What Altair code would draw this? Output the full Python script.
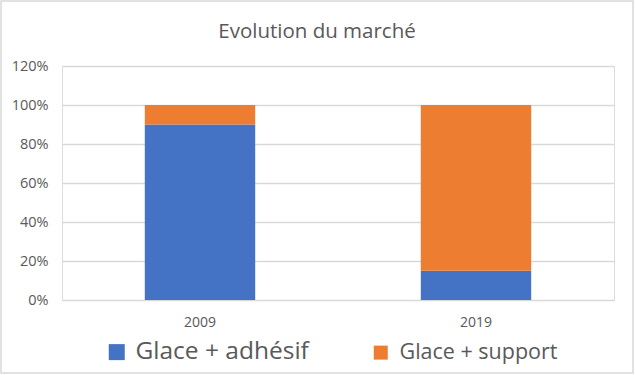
import altair as alt
import pandas as pd

years = ["2009", "2019"]
series = ["Glace + adhésif", "Glace + support"]
adhesif = [0.90, 0.15]
support = [0.10, 0.85]
colors = ["#4472C4", "#ED7D31"]
y_ticks = [0, 0.2, 0.4, 0.6, 0.8, 1.0, 1.2]

rows = []
for i, yr in enumerate(years):
    rows.append({"year": yr, "serie": series[0], "value": adhesif[i], "ord": 0})
    rows.append({"year": yr, "serie": series[1], "value": support[i], "ord": 1})
df = pd.DataFrame(rows)

FONT = "Open Sans"
TXT = "#595959"

bars = alt.Chart(df).mark_bar().encode(
    x=alt.X(
        "year:N",
        sort=years,
        scale=alt.Scale(paddingInner=0.6, paddingOuter=0.3),
        axis=alt.Axis(title=None, labelAngle=0, ticks=False, domain=False, grid=False,
                      labelFontSize=14, labelColor=TXT, labelFont=FONT, labelPadding=15),
    ),
    y=alt.Y(
        "value:Q",
        stack="zero",
        scale=alt.Scale(domain=[0, 1.2], nice=False),
        axis=alt.Axis(title=None, values=y_ticks, format=".0%", ticks=False, domain=False,
                      gridColor="#D9D9D9", gridWidth=1.3, labelFontSize=14.5, labelColor=TXT,
                      labelFont=FONT, labelPadding=14),
    ),
    color=alt.Color(
        "serie:N",
        scale=alt.Scale(domain=series, range=colors),
        legend=alt.Legend(
            title=None, orient="none", legendX=44, legendY=275, direction="horizontal",
            columns=2, symbolType="square",
            symbolSize=alt.ExprRef(expr="datum.value == 'Glace + adhésif' ? 256 : 196"),
            symbolStrokeWidth=0,
            labelFontSize=alt.ExprRef(expr="datum.value == 'Glace + adhésif' ? 24.5 : 21.5"),
            labelColor=TXT, labelFont=FONT, labelLimit=400,
            columnPadding=61, labelOffset=8,
        ),
    ),
    order=alt.Order("ord:Q"),
)

border = alt.Chart(pd.DataFrame({"k": [0]})).mark_rect(
    fill="transparent", stroke="#D9D9D9", strokeWidth=1.5
).encode(x=alt.value(-61), x2=alt.value(571), y=alt.value(-65), y2=alt.value(307))

chart = alt.layer(border, bars).properties(
    width=552,
    height=234,
    padding={"left": 62, "top": 66, "right": 21, "bottom": 75},
    autosize=alt.AutoSizeParams(type="none"),
    title=alt.TitleParams("Evolution du marché", fontSize=20.5, font=FONT, color=TXT,
                          fontWeight="normal", anchor="middle", dx=-21, offset=-42),
).configure_view(stroke=None).configure(background="white")

chart.save("out.html", embed_options={"renderer": "svg", "actions": False})
